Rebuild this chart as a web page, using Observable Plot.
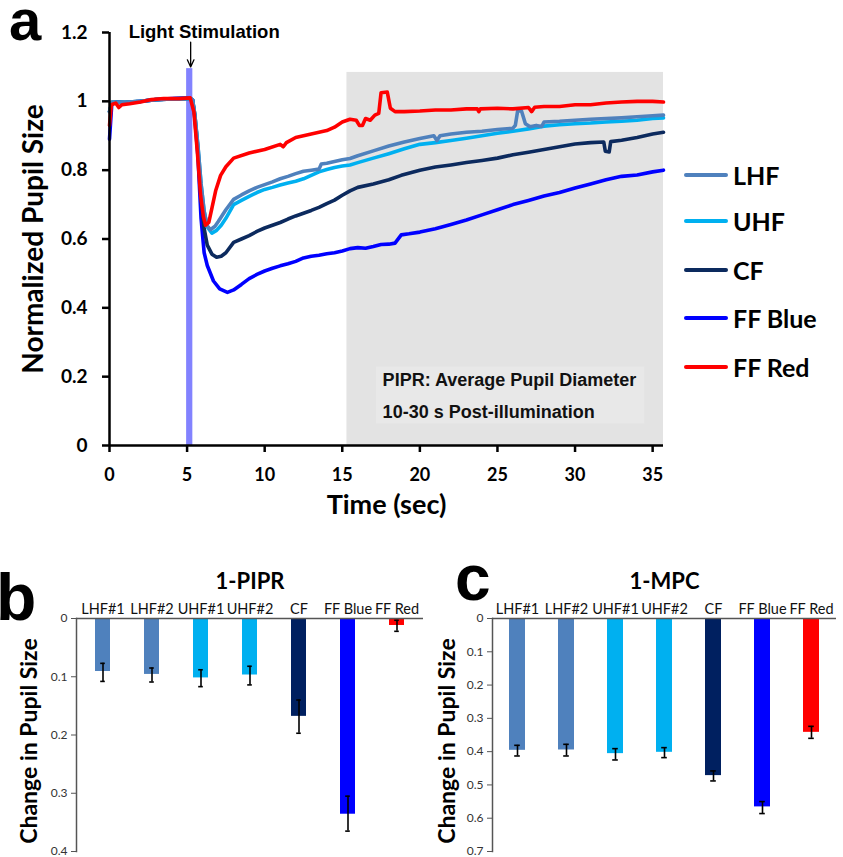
<!DOCTYPE html>
<html><head><meta charset="utf-8">
<script src="https://cdn.jsdelivr.net/npm/d3@7"></script>
<script src="https://cdn.jsdelivr.net/npm/@observablehq/plot@0.6"></script>
<style>
body{margin:0;background:#fff;}
#root{position:relative;width:843px;height:857px;overflow:hidden;font-family:Lato,sans-serif;}
.abs{position:absolute;}
.plabel{position:absolute;font-family:"Liberation Sans",Arial,sans-serif;font-weight:bold;line-height:1;}
.leg{position:absolute;left:684px;font-family:Lato,sans-serif;font-weight:bold;font-size:25px;display:flex;align-items:center;height:30px;}
.leg span.sw{display:inline-block;width:44px;height:4px;margin-right:5px;border-radius:2px;}
</style></head>
<body><div id="root"></div>
<script>
// ---------- Panel a data: [time (s), normalized pupil size] ----------
const lhfData = [[0,0.97],[0.15,0.997],[1,0.997],[2,1.0],[3,1.005],[4,1.007],[5,1.008],[5.35,1.005],
  [5.5,0.96],[5.7,0.87],[5.9,0.76],[6.1,0.68],[6.3,0.638],[6.5,0.627],[6.8,0.637],[7,0.65],[7.5,0.685],[8,0.715],
  [8.5,0.728],[9,0.74],[9.5,0.75],[10,0.758],[10.5,0.766],[11,0.775],[11.5,0.782],[12,0.79],[12.5,0.797],[13,0.8],
  [13.5,0.803],[13.65,0.818],[14,0.82],[14.5,0.825],[15,0.83],[15.5,0.834],[16,0.842],[17,0.856],[18,0.87],[19,0.882],
  [20,0.892],[20.9,0.9],[21.1,0.886],[21.3,0.9],[22,0.905],[23,0.91],[24,0.913],[25,0.918],[26,0.922],[26.15,0.93],
  [26.3,0.972],[26.55,0.972],[26.8,0.935],[27.1,0.926],[27.5,0.93],[27.85,0.927],[28,0.94],[29,0.942],[30,0.945],
  [31,0.948],[32,0.95],[33,0.952],[34,0.955],[35,0.958],[35.7,0.96]];
const uhfData = [[0,0.97],[0.15,0.997],[1,0.997],[2,1.0],[3,1.005],[4,1.007],[5,1.008],[5.35,1.005],
  [5.5,0.96],[5.7,0.87],[5.9,0.76],[6.1,0.68],[6.3,0.635],[6.6,0.617],[6.9,0.625],[7.2,0.64],[7.5,0.66],[8,0.7],
  [8.5,0.712],[9,0.724],[9.5,0.735],[10,0.744],[10.5,0.75],[11,0.757],[11.5,0.763],[12,0.768],[12.5,0.775],[13,0.785],
  [13.5,0.795],[14,0.802],[14.5,0.808],[15,0.812],[15.5,0.815],[16,0.822],[17,0.835],[18,0.848],[19,0.862],[20,0.875],
  [21,0.88],[22,0.886],[23,0.893],[24,0.9],[25,0.907],[26,0.913],[27,0.92],[28,0.928],[29,0.932],[30,0.935],
  [31,0.937],[32,0.94],[33,0.942],[34,0.945],[35,0.95],[35.7,0.952]];
const cfData = [[0,0.97],[0.15,0.997],[1,0.997],[2,1.0],[3,1.005],[4,1.007],[5,1.008],[5.35,1.005],
  [5.5,0.96],[5.7,0.86],[5.9,0.72],[6.1,0.63],[6.3,0.582],[6.6,0.556],[6.9,0.547],[7.2,0.55],[7.5,0.56],[8,0.59],
  [8.5,0.6],[9,0.61],[9.5,0.622],[10,0.632],[10.5,0.64],[11,0.648],[11.5,0.658],[12,0.667],[12.5,0.675],[13,0.683],
  [13.5,0.692],[14,0.703],[14.5,0.713],[15,0.727],[15.5,0.74],[16,0.75],[17,0.76],[18,0.772],[18.8,0.785],[20,0.8],
  [21,0.809],[22,0.815],[23,0.822],[24,0.828],[25,0.835],[26,0.845],[27,0.852],[28,0.86],[29,0.868],[30,0.876],
  [31,0.88],[31.85,0.882],[31.95,0.855],[32.2,0.853],[32.3,0.883],[33,0.887],[34,0.895],[35,0.905],[35.7,0.91]];
const ffBlueData = [[0,0.89],[0.15,0.995],[0.5,0.998],[1,0.996],[2,1.0],[3,1.005],[4,1.008],[5,1.01],[5.35,1.005],
  [5.5,0.95],[5.7,0.84],[5.9,0.66],[6.1,0.56],[6.3,0.523],[6.7,0.478],[7.1,0.455],[7.6,0.445],[8,0.452],[8.5,0.468],
  [9,0.485],[9.5,0.497],[10,0.507],[10.5,0.515],[11,0.522],[11.5,0.528],[12,0.535],[12.5,0.545],[13,0.55],[13.5,0.553],
  [14,0.557],[14.5,0.56],[15,0.565],[15.5,0.572],[16,0.575],[16.5,0.573],[17,0.578],[17.5,0.584],[18,0.585],[18.4,0.588],
  [18.8,0.612],[19.3,0.615],[20,0.62],[21,0.63],[22,0.642],[23,0.655],[24,0.67],[25,0.685],[26,0.7],[27,0.712],
  [28,0.725],[29,0.735],[30,0.748],[31,0.76],[32,0.772],[33,0.782],[34,0.786],[35,0.795],[35.7,0.8]];
const ffRedData = [[0,0.93],[0.12,0.99],[0.4,0.995],[0.6,0.982],[0.8,0.99],[1.3,0.993],[2,0.998],[2.7,1.005],
  [3.5,1.008],[4.5,1.008],[5.2,1.01],[5.44,0.969],[5.66,0.853],[5.87,0.727],[6.05,0.665],[6.19,0.64],[6.4,0.648],
  [6.6,0.69],[6.84,0.74],[7.16,0.785],[7.5,0.81],[8,0.835],[9,0.85],[10,0.86],[11,0.875],[11.2,0.868],[11.4,0.88],
  [12,0.895],[13,0.905],[14,0.915],[14.5,0.925],[15,0.94],[15.5,0.948],[15.9,0.945],[16.1,0.93],[16.3,0.93],
  [16.5,0.95],[16.8,0.945],[17.1,0.96],[17.35,0.965],[17.5,1.025],[17.9,1.027],[18.1,0.98],[18.4,0.97],[19,0.97],
  [20,0.972],[21,0.975],[22,0.975],[23,0.978],[23.7,0.978],[23.8,0.97],[23.9,0.978],[25,0.98],[26,0.978],[27,0.982],
  [27.2,0.97],[27.4,0.983],[28,0.985],[29,0.985],[30,0.99],[31,0.99],[32,0.995],[33,0.998],[34,1.0],[35,1.0],[35.7,0.998]];

const seriesNames = ["LHF", "UHF", "CF", "FF Blue", "FF Red"];
const seriesColors = ["#4f81bd", "#00b0f0", "#0c2a5e", "#0000ff", "#ff0000"];
const xTicksA = [0, 5, 10, 15, 20, 25, 30, 35];
const yTicksA = [0, 0.2, 0.4, 0.6, 0.8, 1, 1.2];
const shadeRegion = {x1: 15.3, x2: 35.7, y1: 0, y2: 1.084};
const textBox = {x1: 17.2, x2: 34.5, y1: 0.063, y2: 0.228};
const stimulus = {x1: 4.97, x2: 5.37, y1: 0, y2: 1.095};
const stimLabel = {x: 6.1, y: 1.2, text: "Light Stimulation"};
const stimArrow = {x1: 5.23, x2: 5.23, y1: 1.172, y2: 1.1};
const pirpLines = [{x: 17.6, y: 0.189, text: "PIPR: Average Pupil Diameter"}, {x: 17.6, y: 0.098, text: "10-30 s Post-illumination"}];

// ---------- Panels b, c data ----------
const barCategories = ["LHF#1", "LHF#2", "UHF#1", "UHF#2", "CF", "FF Blue", "FF Red"];
const barColors = ["#4f81bd", "#4f81bd", "#00b0f0", "#00b0f0", "#002060", "#0000ff", "#ff0000"];
const piprValues = [0.091, 0.096, 0.102, 0.097, 0.168, 0.336, 0.012];
const piprLow = [0.077, 0.085, 0.088, 0.082, 0.14, 0.305, 0.003];
const piprHigh = [0.108, 0.109, 0.117, 0.114, 0.197, 0.365, 0.022];
const mpcValues = [0.396, 0.395, 0.406, 0.402, 0.472, 0.566, 0.342];
const mpcLow = [0.381, 0.378, 0.391, 0.388, 0.458, 0.55, 0.324];
const mpcHigh = [0.413, 0.413, 0.425, 0.418, 0.488, 0.586, 0.36];
const piprTicks = [0, 0.1, 0.2, 0.3, 0.4];
const mpcTicks = [0, 0.1, 0.2, 0.3, 0.4, 0.5, 0.6, 0.7];

const root = document.getElementById("root");
const fmt = d => String(+d.toFixed(1));
const toRows = arr => arr.map(([t, v]) => ({t, v}));
const allSeries = [ffBlueData, cfData, uhfData, lhfData, ffRedData];
const allIdx = [3, 2, 1, 0, 4];

const lineMarks = allSeries.map((s, i) => Plot.line(toRows(s), {x: "t", y: "v", stroke: seriesColors[allIdx[i]], strokeWidth: 3.6, strokeLinejoin: "round", strokeLinecap: "round"}));

const plotA = Plot.plot({
  width: 680, height: 540,
  marginLeft: 109, marginRight: 17, marginTop: 32, marginBottom: 95,
  x: {domain: [0, 35.7]},
  y: {domain: [0, 1.2]},
  style: {fontFamily: "Lato, sans-serif", background: "transparent", overflow: "visible", color: "#000"},
  marks: [
    Plot.rect([shadeRegion], {x1: "x1", x2: "x2", y1: "y1", y2: "y2", fill: "#e3e3e3"}),
    Plot.rect([textBox], {x1: "x1", x2: "x2", y1: "y1", y2: "y2", fill: "#e8e8e8"}),
    Plot.rect([stimulus], {x1: "x1", x2: "x2", y1: "y1", y2: "y2", fill: "#8282ff"}),
    ...lineMarks,
    Plot.ruleY([0], {strokeWidth: 2.5, stroke: "#000"}),
    Plot.ruleX([0], {y1: 0, y2: 1.2, strokeWidth: 2.5, stroke: "#000"}),
    Plot.axisX({ticks: xTicksA, tickSize: 7, tickPadding: 16, strokeWidth: 2.5, fontSize: 18, fontWeight: "bold", label: null, tickFormat: d => String(d)}),
    Plot.axisY({ticks: yTicksA, tickSize: 7, tickPadding: 15, strokeWidth: 2.5, fontSize: 19, fontWeight: "bold", label: null, tickFormat: fmt}),
    Plot.text(["Normalized Pupil Size"], {frameAnchor: "left", textAnchor: "middle", rotate: -90, dx: -75, fontSize: 28, fontWeight: "bold", fill: "#000"}),
    Plot.text(["Time (sec)"], {frameAnchor: "bottom", dy: 68, fontSize: 27, fontWeight: "bold", fill: "#000"}),
    Plot.text([stimLabel], {x: "x", y: "y", text: "text", fontFamily: "Liberation Sans, Arial, sans-serif", fontSize: 18.5, fontWeight: "bold", fill: "#000"}),
    Plot.arrow([stimArrow], {x1: "x1", x2: "x2", y1: "y1", y2: "y2", stroke: "#000", strokeWidth: 1.3, headLength: 9, headAngle: 50}),
    Plot.text(pirpLines, {x: "x", y: "y", text: "text", textAnchor: "start", fontFamily: "Liberation Sans, Arial, sans-serif", fontSize: 18, fontWeight: "bold", fill: "#111"})
  ]
});
plotA.classList.add("abs");
plotA.style.left = "0px"; plotA.style.top = "0px";
root.appendChild(plotA);

// legend
const legendTops = [160, 206, 255, 303, 352];
seriesNames.forEach((name, i) => {
  const d = document.createElement("div");
  d.className = "leg";
  d.style.top = legendTops[i] + "px";
  d.innerHTML = `<span class="sw" style="background:${seriesColors[i]}"></span><span>${name}</span>`;
  root.appendChild(d);
});

function barPanel({values, low, high, ticks, yMax, width, marginLeft, paddingInner, title, titleDx}) {
  const rows = barCategories.map((c, i) => ({c, v: values[i], lo: low[i], hi: high[i], color: barColors[i]}));
  return Plot.plot({
    width, height: 312,
    marginLeft, marginRight: 7, marginTop: 73, marginBottom: 6,
    x: {domain: barCategories, paddingInner, paddingOuter: paddingInner / 2, align: 0.5},
    y: {domain: [0, yMax], reverse: true},
    style: {fontFamily: "Lato, sans-serif", background: "transparent", overflow: "visible", color: "#222"},
    marks: [
      Plot.barY(rows, {x: "c", y: "v", fill: "color"}),
      Plot.ruleX(rows, {x: "c", y1: "lo", y2: "hi", stroke: "#000", strokeWidth: 1.6}),
      Plot.tickY(rows, {x: "c", y: "lo", stroke: "#000", strokeWidth: 1.6, insetLeft: 5.2, insetRight: 5.2}),
      Plot.tickY(rows, {x: "c", y: "hi", stroke: "#000", strokeWidth: 1.6, insetLeft: 5.2, insetRight: 5.2}),
      Plot.ruleY([0], {stroke: "#555", strokeWidth: 1.5}),
      Plot.frame({anchor: "left", stroke: "#555", strokeWidth: 1.5}),
      Plot.axisX({anchor: "top", tickSize: 0, tickPadding: 5, fontSize: 14.5, label: null, fill: "#111"}),
      Plot.axisY({ticks, tickSize: 5, tickPadding: 4, fontSize: 12, label: null, tickFormat: fmt, stroke: "#555", fill: "#333"}),
      Plot.text(["Change in Pupil Size"], {frameAnchor: "left", textAnchor: "middle", rotate: -90, dx: titleDx, dy: 6, fontSize: 23, fontWeight: "bold", fill: "#000"}),
      Plot.text([title], {frameAnchor: "top", dy: -45, fontSize: 22, fontWeight: "bold", fill: "#000"})
    ]
  });
}

const plotB = barPanel({values: piprValues, low: piprLow, high: piprHigh, ticks: piprTicks, yMax: 0.4, width: 430, marginLeft: 76, paddingInner: 0.685, title: "1-PIPR", titleDx: -47});
plotB.classList.add("abs"); plotB.style.left = "0px"; plotB.style.top = "545px";
root.appendChild(plotB);

const plotC = barPanel({values: mpcValues, low: mpcLow, high: mpcHigh, ticks: mpcTicks, yMax: 0.7, width: 418, marginLeft: 67, paddingInner: 0.68, title: "1-MPC", titleDx: -45});
plotC.classList.add("abs"); plotC.style.left = "425px"; plotC.style.top = "545px";
root.appendChild(plotC);

// panel letters
[["a", 58, 9, -9], ["b", 66, -4, 564], ["c", 64, 455, 546]].forEach(([t, fs, l, tp]) => {
  const d = document.createElement("div");
  d.className = "plabel";
  d.textContent = t;
  d.style.fontSize = fs + "px"; d.style.left = l + "px"; d.style.top = tp + "px";
  root.appendChild(d);
});
</script>
</body></html>
